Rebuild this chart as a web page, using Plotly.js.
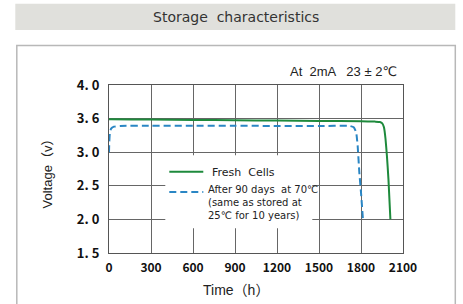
<!DOCTYPE html>
<html>
<head>
<meta charset="utf-8">
<script src="https://cdn.plot.ly/plotly-3.0.1.min.js"></script>
<style>html,body{margin:0;padding:0;background:#fff}#chart{width:463px;height:304px}</style>
</head>
<body>
<div id="chart"></div>
<script>
// Data
const timeFresh = [0, 20, 300, 600, 900, 1200, 1500, 1800, 1900, 1935, 1952, 1964, 1975, 1985, 1996, 2010];
const voltFresh = [3.49, 3.49, 3.485, 3.48, 3.475, 3.47, 3.465, 3.46, 3.455, 3.45, 3.43, 3.37, 3.2, 2.95, 2.6, 2.0];
const timeStored = [0, 2, 6, 15, 35, 80, 300, 600, 900, 1200, 1500, 1720, 1748, 1765, 1776, 1788, 1800, 1814];
const voltStored = [3.0, 3.15, 3.28, 3.35, 3.38, 3.39, 3.395, 3.395, 3.395, 3.39, 3.39, 3.39, 3.37, 3.3, 3.1, 2.7, 2.4, 2.0];
const xTicks = [0, 300, 600, 900, 1200, 1500, 1800, 2100];
const yTicks = [1.5, 2.0, 2.5, 3.0, 3.5, 4.0];
const yTickText = ["1. 5", "2. 0", "2. 5", "3. 0", "3. 6", "4. 0"];

const L = 108.7, R = 402.7, T = 85, B = 252.7;
const W = 463, H = 304;
const px = x => (x - L) / (R - L);
const py = y => (B - y) / (B - T);

const tickFamily = "Noto Sans CJK JP, DejaVu Sans";
const txtFont = {family: "DejaVu Sans, Liberation Sans", size: 10, color: "#222"};

const traces = [
  {x: timeFresh, y: voltFresh, type: "scatter", mode: "lines", name: "Fresh Cells",
   line: {color: "#1e8a3c", width: 2, shape: "spline", smoothing: 0.4}, showlegend: false, hoverinfo: "skip"},
  {x: timeStored, y: voltStored, type: "scatter", mode: "lines", name: "After 90 days at 70℃",
   line: {color: "#2a86c4", width: 2, dash: "7px,4px", shape: "spline", smoothing: 0.4}, showlegend: false, hoverinfo: "skip"}
];

const layout = {
  width: W, height: H,
  margin: {l: L, r: W - R, t: T, b: H - B, pad: 0},
  paper_bgcolor: "#fff", plot_bgcolor: "#fff",
  showlegend: false,
  xaxis: {range: [0, 2100], tickvals: xTicks, ticktext: xTicks.map(String), showgrid: true, gridcolor: "#666", gridwidth: 1,
          zeroline: false, showline: true, linecolor: "#555", linewidth: 1, mirror: true, ticks: "",
          tickfont: {family: tickFamily, size: 12, color: "#111", weight: 600}, ticklabelstandoff: 4, fixedrange: true},
  yaxis: {range: [1.5, 4.0], tickvals: yTicks, ticktext: yTickText, showgrid: true, gridcolor: "#666", gridwidth: 1,
          zeroline: false, showline: true, linecolor: "#555", linewidth: 1, mirror: true, ticks: "",
          tickfont: {family: tickFamily, size: 13, color: "#111", weight: 600}, ticklabelstandoff: 6, fixedrange: true},
  shapes: [
    {type: "rect", xref: "paper", yref: "paper", x0: px(15), x1: px(455), y0: py(30), y1: py(4),
     fillcolor: "#e0e0dc", line: {width: 0}, layer: "below"},
    {type: "rect", xref: "paper", yref: "paper", x0: px(16.5), x1: px(455), y0: py(320), y1: py(45.5),
     fillcolor: "rgba(0,0,0,0)", line: {color: "#b8b8b8", width: 1.5}, layer: "below"},
    {type: "rect", xref: "paper", yref: "paper", x0: px(165), x1: px(312), y0: py(228), y1: py(155),
     fillcolor: "#fff", line: {width: 0}, layer: "above"},
    {type: "line", xref: "paper", yref: "paper", x0: px(169), x1: px(203), y0: py(171.7), y1: py(171.7),
     line: {color: "#1e8a3c", width: 2}, layer: "above"},
    {type: "line", xref: "paper", yref: "paper", x0: px(169), x1: px(203), y0: py(191.7), y1: py(191.7),
     line: {color: "#2a86c4", width: 2, dash: "7px,4px"}, layer: "above"}
  ],
  annotations: [
    {text: "Storage  characteristics", xref: "paper", yref: "paper", x: px(236), y: py(17), xanchor: "center", yanchor: "middle",
     showarrow: false, font: {family: "DejaVu Sans, Liberation Sans", size: 14, color: "#333"}},
    {text: "At  2mA   23 ± 2℃", xref: "paper", yref: "paper", x: px(399), y: py(72), xanchor: "right", yanchor: "middle",
     showarrow: false, font: {family: "Liberation Sans, DejaVu Sans", size: 13, color: "#222"}},
    {text: "Fresh  Cells", xref: "paper", yref: "paper", x: px(210), y: py(172), xanchor: "left", yanchor: "middle",
     showarrow: false, font: {family: "DejaVu Sans, Liberation Sans", size: 11, color: "#222"}},
    {text: "After 90 days  at 70℃<br>(same as stored at<br>25℃ for 10 years)", xref: "paper", yref: "paper",
     x: px(206), y: py(182), xanchor: "left", yanchor: "top", align: "left",
     showarrow: false, font: txtFont},
    {text: "Time（h）", xref: "paper", yref: "paper", x: px(236), y: py(290), xanchor: "center", yanchor: "middle",
     showarrow: false, font: {family: "Liberation Sans, Noto Sans CJK JP", size: 14, color: "#222"}},
    {text: "Voltage（v）", xref: "paper", yref: "paper", x: px(47), y: py(170), xanchor: "center", yanchor: "middle",
     textangle: -90, showarrow: false, font: {family: "Liberation Sans, Noto Sans CJK JP", size: 13, color: "#222"}}
  ]
};

Plotly.newPlot("chart", traces, layout, {staticPlot: true, displayModeBar: false});
</script>
</body>
</html>
